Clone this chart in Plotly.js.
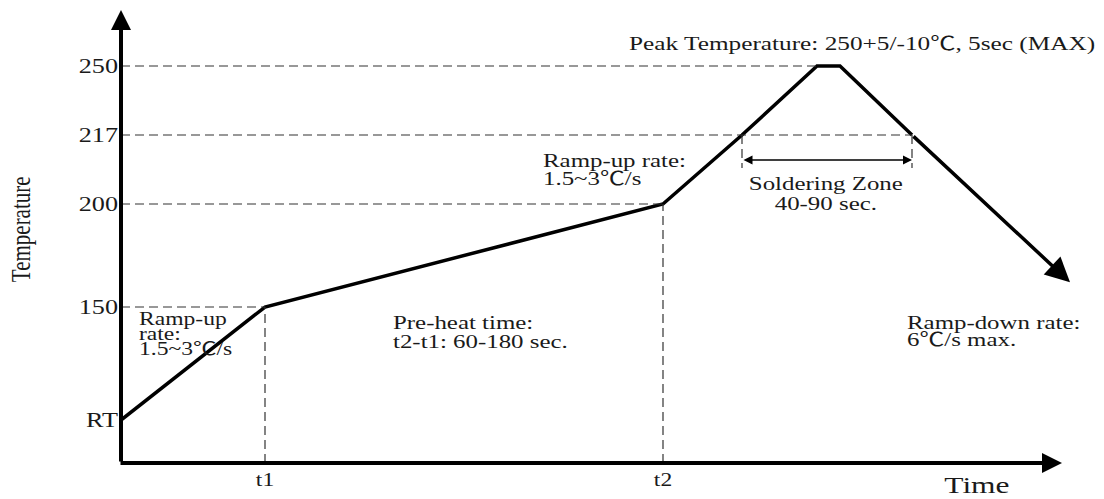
<!DOCTYPE html>
<html><head><meta charset="utf-8">
<script src="https://cdn.plot.ly/plotly-3.0.1.min.js"></script>
<style>html,body{margin:0;padding:0;background:#fff}#chart{width:1104px;height:499px}</style>
</head><body><div id="chart"></div>
<script>
// ---------- data (schematic reflow profile) ----------
const stageNames = ['Start', 't1', 't2', 'Liquidus (up)', 'Peak start', 'Peak end', 'Liquidus (down)', 'End'];
const stageTime  = [0, 72, 271, 310.5, 348, 359.5, 395.5, 474.5];   // schematic time units
const stageTemp  = [25, 150, 200, 217, 250, 250, 217, 162];          // °C

const tempLevels = [25, 150, 200, 217, 250];
const tempLabels = ['RT', '150', '200', '217', '250'];

const timeTickStage  = [1, 2];
const timeTickLabels = ['t1', 't2'];

// guide lines: temperature level -> stage where the dashed line ends
const guideLevels = [150, 200, 217, 250];
const guideStage  = [1, 2, 6, 4];
const zoneStages  = [3, 6];            // soldering zone (above 217 °C)

const peakText      = 'Peak Temperature: 250+5/-10℃, 5sec (MAX)';
const rampUp1Lines  = ['Ramp-up', 'rate:', '1.5~3℃/s'];
const rampUp2Lines  = ['Ramp-up rate:', '1.5~3℃/s'];
const preheatLines  = ['Pre-heat time:', 't2-t1: 60-180 sec.'];
const zoneLines     = ['Soldering Zone', '40-90 sec.'];
const rampDownLines = ['Ramp-down rate:', '6℃/s max.'];
const xTitle = 'Time';
const yTitle = 'Temperature';

// ---------- piecewise temperature scale of the drawing ----------
const scaleTemp   = [25, 150, 200, 217, 250];
const scaleHeight = [43, 156, 259, 328, 397];
function yOf(T) {
  let i = 0;
  while (i < scaleTemp.length - 2 && T > scaleTemp[i + 1]) i++;
  const t0 = scaleTemp[i], t1 = scaleTemp[i + 1], h0 = scaleHeight[i], h1 = scaleHeight[i + 1];
  return h0 + (T - t0) * (h1 - h0) / (t1 - t0);
}

const FONT = '"Liberation Serif", "Noto Sans CJK SC", "Times New Roman", serif';
const TXT = '#1a1a1a';
const n = stageTime.length;

// ---------- main curve (last segment is drawn by the arrow) ----------
const curve = {
  type: 'scatter', mode: 'lines',
  x: stageTime.slice(0, n - 1),
  y: stageTemp.slice(0, n - 1).map(yOf),
  text: stageNames.slice(0, n - 1),
  line: { color: '#000', width: 3.5 },
  hoverinfo: 'text'
};

// ---------- dashed guides ----------
const dash = { color: '#333', width: 1.2, dash: '9px,5px' };
const shapes = [];
guideLevels.forEach((lv, k) => {
  shapes.push({ type: 'line', xref: 'x', yref: 'y', x0: 0, x1: stageTime[guideStage[k]], y0: yOf(lv), y1: yOf(lv), line: dash });
});
timeTickStage.forEach(i => {
  shapes.push({ type: 'line', xref: 'x', yref: 'y', x0: stageTime[i], x1: stageTime[i], y0: 0, y1: yOf(stageTemp[i]), line: dash });
});
zoneStages.forEach(i => {
  shapes.push({ type: 'line', xref: 'x', yref: 'y', x0: stageTime[i], x1: stageTime[i], y0: yOf(217), y1: 295, line: dash });
});

// ---------- annotations ----------
const ann = [];
const lineGap = {};   // annotation index -> line spacing in px
function arrow(x, y, ax, ay, w, head, size, side) {
  ann.push({ xref: 'x', yref: 'y', axref: 'x', ayref: 'y', x, y, ax, ay, text: '', showarrow: true,
    arrowhead: head, arrowsize: size, arrowwidth: w, arrowcolor: '#000', arrowside: side || 'end',
    standoff: 0, startstandoff: 0 });
}
arrow(0, 453, 0, 0, 4, 2, 1);                 // y axis
arrow(470.5, 0, -1, 0, 4, 2, 1);              // x axis
arrow(stageTime[n - 1], yOf(stageTemp[n - 1]), stageTime[n - 2], yOf(stageTemp[n - 2]), 3.5, 2, 1.4); // ramp down
arrow(stageTime[zoneStages[1]], 303, stageTime[zoneStages[0]], 303, 1.5, 2, 1.2, 'end+start'); // zone

function block(lines, x, yTop, size, gap, align) {
  align = align || 'left';
  lineGap[ann.length] = gap;
  ann.push({ xref: 'x', yref: 'y', x, y: yTop, text: lines.join('<br>'), showarrow: false,
    xanchor: align, yanchor: 'top', align: align,
    font: { family: FONT, size: size, color: TXT } });
}
block([peakText], 253, 432, 19.3, 0);
block(rampUp2Lines, 210, 315.5, 19, 18);
block(zoneLines, 352.5, 292.5, 19, 20, 'center');
block(rampUp1Lines, 8, 156, 18, 15);
block(preheatLines, 135, 153.5, 19, 19);
block(rampDownLines, 392, 153.5, 19, 17);

ann.push({ xref: 'paper', yref: 'paper', x: 0.871, y: -0.0475, text: xTitle, showarrow: false,
  xanchor: 'center', yanchor: 'middle', font: { family: FONT, size: 24, color: TXT } });
ann.push({ xref: 'paper', yref: 'paper', x: -0.1017, y: 0.505, text: yTitle, showarrow: false, textangle: -90,
  xanchor: 'center', yanchor: 'middle', font: { family: FONT, size: 21, color: TXT } });

const layout = {
  width: 1104, height: 499,
  margin: { l: 121, r: 0, t: 0, b: 36 },
  paper_bgcolor: '#fff', plot_bgcolor: '#fff', showlegend: false,
  font: { family: FONT, color: TXT },
  xaxis: { range: [0, 491.5], showgrid: false, zeroline: false, showline: false, ticks: '',
    tickvals: timeTickStage.map(i => stageTime[i]), ticktext: timeTickLabels,
    tickfont: { family: FONT, size: 18, color: TXT }, ticklabelstandoff: 4, fixedrange: true },
  yaxis: { range: [0, 463], showgrid: false, zeroline: false, showline: false, ticks: '',
    tickvals: tempLevels.map(yOf), ticktext: tempLabels,
    tickfont: { family: FONT, size: 20, color: TXT }, ticklabelstandoff: 2, fixedrange: true },
  shapes, annotations: ann
};

// the original drawing is stretched horizontally; widen text (on screen x) to match
const STRETCH = 1.31;
function widen(t, anchor) {
  const b = t.getBBox();
  const cx = anchor === 'start' ? b.x : anchor === 'end' ? b.x + b.width : b.x + b.width / 2;
  const prev = t.getAttribute('transform') || '';
  t.setAttribute('transform', prev + ' translate(' + cx + ',0) scale(' + STRETCH + ',1) translate(' + (-cx) + ',0)');
}
function thicken(t) {   // text rotated by -90deg: screen x is the local y direction
  const b = t.getBBox();
  const cy = b.y + b.height / 2;
  const prev = t.getAttribute('transform') || '';
  t.setAttribute('transform', prev + ' translate(0,' + cy + ') scale(1,' + STRETCH + ') translate(0,' + (-cy) + ')');
}
const gd = document.getElementById('chart');
Plotly.newPlot(gd, [curve], layout, { displayModeBar: false, staticPlot: true }).then(() => {
  gd.querySelectorAll('.xtick text, .ytick text').forEach(t => widen(t, t.getAttribute('text-anchor') || 'middle'));
  gd.querySelectorAll('g.annotation').forEach(g => {
    const idx = +g.getAttribute('data-index');
    const a = layout.annotations[idx];
    if (!a || !a.text) return;
    const t = g.querySelector('text.annotation-text');
    if (!t) return;
    const gap = lineGap[idx];
    if (gap) t.querySelectorAll('tspan.line').forEach((ts, k) => ts.setAttribute('dy', String(k * gap)));
    if (a.textangle) { thicken(t); return; }
    widen(t, a.xanchor === 'left' ? 'start' : a.xanchor === 'right' ? 'end' : 'middle');
  });
});
</script>
</body></html>
